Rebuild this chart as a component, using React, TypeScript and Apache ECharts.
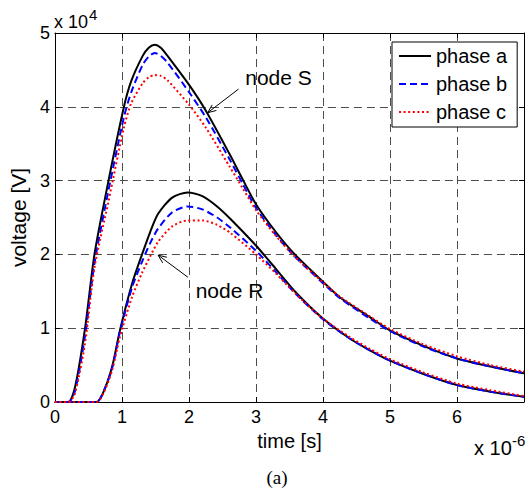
import { useEffect, useRef } from 'react';
import * as echarts from 'echarts';

// time in units of 1e-6 s, voltage in units of 1e4 V
const nodeSTime = [0, 0.2, 0.3, 0.45, 0.59, 0.8, 1.03, 1.14, 1.31, 1.4, 1.49, 1.58, 1.68, 2.0, 2.25, 2.6, 2.8, 3.0, 3.3, 3.58, 4.0, 4.25, 4.7, 5.0, 5.5, 6.0, 6.5, 7.0];
const nodeSPhaseA = [0, 0, 0.2, 1.0, 2.0, 3.0, 4.0, 4.35, 4.69, 4.8, 4.84, 4.8, 4.69, 4.3, 3.95, 3.37, 3.02, 2.68, 2.3, 2.0, 1.63, 1.42, 1.15, 0.97, 0.76, 0.59, 0.48, 0.39];
const nodeSPhaseB = [0, 0, 0.15, 0.9, 1.88, 2.87, 3.86, 4.2, 4.57, 4.68, 4.73, 4.69, 4.6, 4.2, 3.86, 3.3, 2.96, 2.63, 2.26, 1.97, 1.61, 1.41, 1.13, 0.96, 0.75, 0.59, 0.48, 0.39];
const nodeSPhaseC = [0, 0, 0.12, 0.8, 1.82, 2.72, 3.72, 4.05, 4.32, 4.4, 4.43, 4.42, 4.36, 4.03, 3.72, 3.2, 2.9, 2.6, 2.25, 1.97, 1.62, 1.43, 1.16, 0.99, 0.78, 0.62, 0.5, 0.41];

const nodeRTime = [0, 0.62, 0.74, 0.86, 0.97, 1.15, 1.3, 1.42, 1.54, 1.75, 1.98, 2.2, 2.42, 2.62, 3.0, 3.3, 3.6, 4.0, 4.4, 4.7, 5.0, 5.5, 6.0, 6.5, 7.0];
const nodeRPhaseA = [0, 0, 0.17, 0.5, 0.97, 1.6, 2.0, 2.3, 2.55, 2.77, 2.84, 2.79, 2.65, 2.48, 2.12, 1.8, 1.48, 1.13, 0.86, 0.7, 0.56, 0.38, 0.23, 0.14, 0.07];
const nodeRPhaseB = [0, 0, 0.17, 0.48, 0.95, 1.55, 1.9, 2.15, 2.35, 2.57, 2.65, 2.61, 2.5, 2.36, 2.05, 1.76, 1.46, 1.12, 0.86, 0.7, 0.56, 0.38, 0.23, 0.14, 0.07];
const nodeRPhaseC = [0, 0, 0.15, 0.45, 0.88, 1.42, 1.75, 1.97, 2.17, 2.38, 2.46, 2.46, 2.4, 2.29, 2.0, 1.74, 1.46, 1.13, 0.88, 0.72, 0.58, 0.4, 0.25, 0.16, 0.08];

const xTickLabels = ['0', '1', '2', '3', '4', '5', '6', ''];
const yTickLabels = ['0', '1', '2', '3', '4', '5'];
const legendNames = ['phase a', 'phase b', 'phase c'];

// annotation anchor points in data coordinates
const nodeSLabel = { text: 'node S', at: [2.84, 4.4], from: [2.74, 4.24], to: [2.28, 3.92] };
const nodeRLabel = { text: 'node R', at: [2.1, 1.51], from: [1.985, 1.69], to: [1.54, 1.99] };

const FONT = '"Liberation Sans", Arial, Helvetica, sans-serif';

export default function App() {
  const ref = useRef<HTMLDivElement>(null);
  useEffect(() => {
    const chart = echarts.init(ref.current!, null, { renderer: 'svg' });
    const styles: any[] = [
      { color: '#000000', type: 'solid' },
      { color: '#0000ff', type: [7, 4] },
      { color: '#ff0000', type: [2, 2.6] },
    ];
    const mk = (name: string, times: number[], vals: number[], st: any) => ({
      type: 'line',
      name,
      data: times.map((t, i) => [t, vals[i]]),
      symbol: 'none',
      smooth: 0.25,
      lineStyle: { color: st.color, width: 2, type: st.type },
      itemStyle: { color: st.color },
    });
    const series = [
      mk(legendNames[0], nodeSTime, nodeSPhaseA, styles[0]),
      mk(legendNames[0], nodeRTime, nodeRPhaseA, styles[0]),
      mk(legendNames[1], nodeSTime, nodeSPhaseB, styles[1]),
      mk(legendNames[1], nodeRTime, nodeRPhaseB, styles[1]),
      mk(legendNames[2], nodeSTime, nodeSPhaseC, styles[2]),
      mk(legendNames[2], nodeRTime, nodeRPhaseC, styles[2]),
    ];
    const tickCommon = { show: true, inside: true, length: 5, lineStyle: { color: '#000', width: 1 } };
    const axisLine = { show: true, onZero: false, lineStyle: { color: '#000', width: 1 } };
    const split = { show: true, lineStyle: { color: '#4d4d4d', width: 1, type: [8, 5] } };
    chart.setOption({
      animation: false,
      backgroundColor: '#fff',
      textStyle: { fontFamily: FONT },
      grid: { left: 53, right: 1.5, top: 33, bottom: 89, containLabel: false },
      legend: {
        data: legendNames,
        orient: 'vertical',
        left: 392,
        top: 42,
        padding: [4, 10, 5, 6],
        itemWidth: 32,
        itemHeight: 14,
        itemGap: 8,
        itemStyle: { opacity: 0 },
        backgroundColor: '#fff',
        borderColor: '#000',
        borderWidth: 1,
        borderRadius: 0,
        textStyle: { fontSize: 20, color: '#000', fontFamily: FONT, lineHeight: 20 },
      },
      xAxis: [
        {
          type: 'value', min: 0, max: 7, interval: 1,
          name: 'time [s]', nameLocation: 'middle', nameGap: 25,
          nameTextStyle: { fontSize: 20, color: '#000', fontFamily: FONT },
          axisLine, axisTick: tickCommon, splitLine: split,
          axisLabel: { fontSize: 18, color: '#000', margin: 6, fontFamily: FONT, formatter: (v: number) => xTickLabels[Math.round(v)] },
        },
        {
          type: 'value', min: 0, max: 7, interval: 1, position: 'top',
          axisLine, axisTick: tickCommon, splitLine: { show: false }, axisLabel: { show: false },
        },
      ],
      yAxis: [
        {
          type: 'value', min: 0, max: 5, interval: 1,
          name: 'voltage [V]', nameLocation: 'middle', nameGap: 21,
          nameTextStyle: { fontSize: 21, color: '#000', fontFamily: FONT },
          axisLine, axisTick: tickCommon, splitLine: split,
          axisLabel: { fontSize: 18, color: '#000', margin: 5, fontFamily: FONT, formatter: (v: number) => yTickLabels[Math.round(v)] },
        },
        {
          type: 'value', min: 0, max: 5, interval: 1, position: 'right',
          axisLine, axisTick: tickCommon, splitLine: { show: false }, axisLabel: { show: false },
        },
      ],
      series,
    });

    const px = (p: number[]) => chart.convertToPixel({ xAxisIndex: 0, yAxisIndex: 0 }, p) as number[];
    const graphics: any[] = [];
    [nodeSLabel, nodeRLabel].forEach((a) => {
      const t = px(a.at);
      graphics.push({
        type: 'text', x: t[0], y: t[1],
        style: { text: a.text, font: `21px ${FONT}`, fill: '#000', align: 'left', verticalAlign: 'middle' },
      });
      const p1 = px(a.from);
      const p2 = px(a.to);
      graphics.push({ type: 'line', shape: { x1: p1[0], y1: p1[1], x2: p2[0], y2: p2[1] }, style: { stroke: '#000', lineWidth: 1 } });
      const ang = Math.atan2(p2[1] - p1[1], p2[0] - p1[0]);
      const L = 9, W = 0.4;
      const w1 = [p2[0] - L * Math.cos(ang - W), p2[1] - L * Math.sin(ang - W)];
      const w2 = [p2[0] - L * Math.cos(ang + W), p2[1] - L * Math.sin(ang + W)];
      graphics.push({ type: 'polyline', shape: { points: [w1, p2, w2] }, style: { stroke: '#000', lineWidth: 1, fill: 'none' } });
    });
    // axis exponent labels
    graphics.push({ type: 'text', x: 54, y: 22, style: { text: 'x 10', font: `18px ${FONT}`, fill: '#000', verticalAlign: 'middle' } });
    graphics.push({ type: 'text', x: 89, y: 14, style: { text: '4', font: `15px ${FONT}`, fill: '#000', verticalAlign: 'middle' } });
    graphics.push({ type: 'text', x: 474, y: 448, style: { text: 'x 10', font: `20px ${FONT}`, fill: '#000', verticalAlign: 'middle' } });
    graphics.push({ type: 'text', x: 512, y: 440, style: { text: '-6', font: `15px ${FONT}`, fill: '#000', verticalAlign: 'middle' } });
    graphics.push({ type: 'text', x: 277, y: 477, style: { text: '(a)', font: `19px "Liberation Serif", "Times New Roman", serif`, fill: '#000', align: 'center', verticalAlign: 'middle' } });
    chart.setOption({ graphic: graphics });

    return () => chart.dispose();
  }, []);
  return <div ref={ref} style={{ position: 'absolute', left: 0, top: 0, width: 527, height: 491 }} />;
}
